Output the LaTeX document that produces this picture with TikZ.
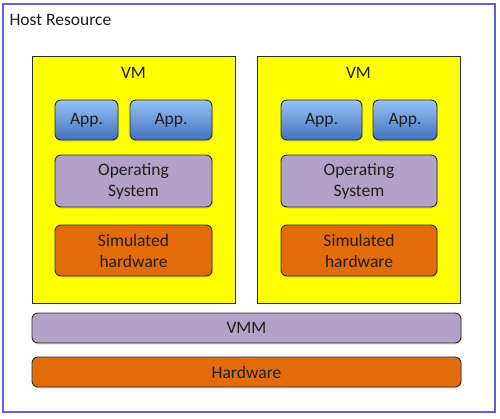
\documentclass[tikz,border=0pt]{standalone}
\usepackage{fontspec}
\setmainfont{Carlito}
\usetikzlibrary{shadows}
\definecolor{hostblue}{RGB}{95,95,220}
\definecolor{vmyellow}{RGB}{255,255,0}
\definecolor{applight}{RGB}{150,195,245}
\definecolor{appdark}{RGB}{65,115,190}
\definecolor{oslav}{RGB}{178,162,199}
\definecolor{hworange}{RGB}{227,108,10}
\definecolor{edgegray}{RGB}{45,45,45}
\definecolor{txt}{RGB}{30,30,30}
\tikzset{
  box/.style={draw=edgegray, line width=0.9pt, rounded corners=6pt, text=txt,
    drop shadow={shadow xshift=1pt, shadow yshift=-1.5pt, opacity=0.25}},
  appbox/.style={box, top color=applight, bottom color=appdark},
  osbox/.style={box, fill=oslav},
  hwbox/.style={box, fill=hworange},
  vmbox/.style={draw=edgegray, line width=0.9pt, fill=vmyellow},
  lbl/.style={font=\fontsize{17.5}{21}\selectfont, text=txt, align=center},
}
\begin{document}
\begin{tikzpicture}[x=1pt,y=-1pt]
\useasboundingbox (0,0) rectangle (500,418);
\fill[white] (0,0) rectangle (500,418);
\draw[hostblue, line width=1.2pt] (3,4) rectangle (495,412);
\node[lbl, anchor=west] (host) at (6,20) {Host Resource};
% left VM
\draw[vmbox] (32,56) rectangle (235,303);
\node[lbl] (vm1) at (133.5,73) {VM};
\path[appbox] (55,100) rectangle (118,140);
\node[lbl] (a11) at (86.5,120) {App.};
\path[appbox] (130,100) rectangle (212,140);
\node[lbl] (a12) at (171,120) {App.};
\path[osbox] (55,155) rectangle (212,207);
\node[lbl] (os1) at (133.5,181) {Operating\\System};
\path[hwbox] (55,225) rectangle (212,276);
\node[lbl] (sh1) at (133.5,250.5) {Simulated\\hardware};
% right VM
\draw[vmbox] (257,56) rectangle (460,303);
\node[lbl] (vm2) at (358.5,73) {VM};
\path[appbox] (281,100) rectangle (362,140);
\node[lbl] (a21) at (321.5,120) {App.};
\path[appbox] (373,100) rectangle (437,140);
\node[lbl] (a22) at (405,120) {App.};
\path[osbox] (281,155) rectangle (437,207);
\node[lbl] (os2) at (359,181) {Operating\\System};
\path[hwbox] (281,225) rectangle (437,276);
\node[lbl] (sh2) at (359,250.5) {Simulated\\hardware};
% VMM and hardware
\path[osbox] (32,313) rectangle (461,343);
\node[lbl] (vmm) at (246.5,328) {VMM};
\path[hwbox] (32,357) rectangle (461,387);
\node[lbl] (hw) at (246.5,372) {Hardware};
\end{tikzpicture}
\end{document}
